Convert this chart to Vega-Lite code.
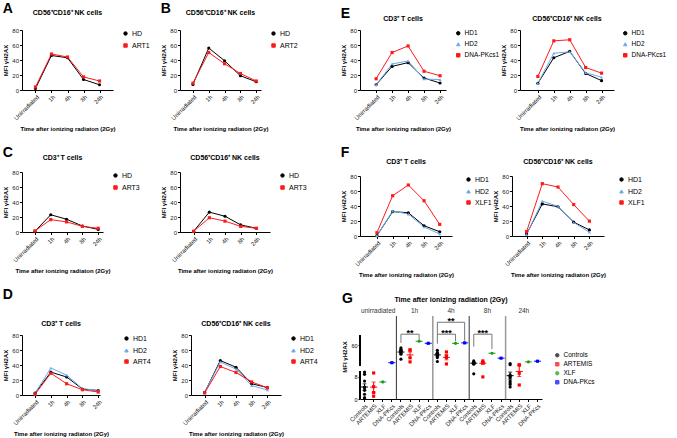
{
  "$schema": "https://vega.github.io/schema/vega-lite/v6.json",
  "padding": {"left": 2, "top": 2, "right": 0, "bottom": 0},
  "background": "white",
  "config": {
    "font": "Liberation Sans",
    "view": {"stroke": null},
    "axis": {"labelFontSize": 6, "titleFontSize": 6, "titleFontWeight": "bold", "domainColor": "#000", "tickColor": "#000", "labelColor": "#222", "titleColor": "#000", "grid": false, "tickSize": 2.5, "labelPadding": 1, "titlePadding": 3},
    "axisX": {"labelAngle": -45, "titlePadding": 5},
    "legend": {"labelFontSize": 7, "symbolSize": 12, "rowPadding": 3, "offset": 9, "labelColor": "#000", "symbolStrokeWidth": 1, "labelOffset": 3},
    "title": {"fontSize": 7, "fontWeight": "bold", "color": "#000", "offset": 8}
  },
  "datasets": {
    "lines": [
      {"p":"A","s":"HD","t":"Unirradiated","v":2},{"p":"A","s":"HD","t":"1h","v":46},{"p":"A","s":"HD","t":"4h","v":43},{"p":"A","s":"HD","t":"8h","v":14},{"p":"A","s":"HD","t":"24h","v":7},
      {"p":"A","s":"ART1","t":"Unirradiated","v":4},{"p":"A","s":"ART1","t":"1h","v":48},{"p":"A","s":"ART1","t":"4h","v":44},{"p":"A","s":"ART1","t":"8h","v":17.5},{"p":"A","s":"ART1","t":"24h","v":12},
      {"p":"B","s":"HD","t":"Unirradiated","v":7.5},{"p":"B","s":"HD","t":"1h","v":56},{"p":"B","s":"HD","t":"4h","v":39},{"p":"B","s":"HD","t":"8h","v":19},{"p":"B","s":"HD","t":"24h","v":11},
      {"p":"B","s":"ART2","t":"Unirradiated","v":9},{"p":"B","s":"ART2","t":"1h","v":50},{"p":"B","s":"ART2","t":"4h","v":35},{"p":"B","s":"ART2","t":"8h","v":22},{"p":"B","s":"ART2","t":"24h","v":12},
      {"p":"CT","s":"HD","t":"Unirradiated","v":1},{"p":"CT","s":"HD","t":"1h","v":23},{"p":"CT","s":"HD","t":"4h","v":17},{"p":"CT","s":"HD","t":"8h","v":8},{"p":"CT","s":"HD","t":"24h","v":3.5},
      {"p":"CT","s":"ART3","t":"Unirradiated","v":1.5},{"p":"CT","s":"ART3","t":"1h","v":16.5},{"p":"CT","s":"ART3","t":"4h","v":13.5},{"p":"CT","s":"ART3","t":"8h","v":7.5},{"p":"CT","s":"ART3","t":"24h","v":5},
      {"p":"CN","s":"HD","t":"Unirradiated","v":1},{"p":"CN","s":"HD","t":"1h","v":26.5},{"p":"CN","s":"HD","t":"4h","v":21},{"p":"CN","s":"HD","t":"8h","v":9.5},{"p":"CN","s":"HD","t":"24h","v":5},
      {"p":"CN","s":"ART3","t":"Unirradiated","v":1},{"p":"CN","s":"ART3","t":"1h","v":19},{"p":"CN","s":"ART3","t":"4h","v":14.5},{"p":"CN","s":"ART3","t":"8h","v":7.5},{"p":"CN","s":"ART3","t":"24h","v":5},
      {"p":"DT","s":"HD1","t":"Unirradiated","v":2.5},{"p":"DT","s":"HD1","t":"1h","v":30.5},{"p":"DT","s":"HD1","t":"4h","v":24},{"p":"DT","s":"HD1","t":"8h","v":8},{"p":"DT","s":"HD1","t":"24h","v":6},
      {"p":"DT","s":"HD2","t":"Unirradiated","v":2.5},{"p":"DT","s":"HD2","t":"1h","v":36},{"p":"DT","s":"HD2","t":"4h","v":26.5},{"p":"DT","s":"HD2","t":"8h","v":8.5},{"p":"DT","s":"HD2","t":"24h","v":6},
      {"p":"DT","s":"ART4","t":"Unirradiated","v":1},{"p":"DT","s":"ART4","t":"1h","v":29},{"p":"DT","s":"ART4","t":"4h","v":15},{"p":"DT","s":"ART4","t":"8h","v":7},{"p":"DT","s":"ART4","t":"24h","v":4},
      {"p":"DN","s":"HD1","t":"Unirradiated","v":3.5},{"p":"DN","s":"HD1","t":"1h","v":46},{"p":"DN","s":"HD1","t":"4h","v":37},{"p":"DN","s":"HD1","t":"8h","v":15},{"p":"DN","s":"HD1","t":"24h","v":10},
      {"p":"DN","s":"HD2","t":"Unirradiated","v":3.5},{"p":"DN","s":"HD2","t":"1h","v":44},{"p":"DN","s":"HD2","t":"4h","v":34.5},{"p":"DN","s":"HD2","t":"8h","v":12.5},{"p":"DN","s":"HD2","t":"24h","v":6.7},
      {"p":"DN","s":"ART4","t":"Unirradiated","v":2.7},{"p":"DN","s":"ART4","t":"1h","v":38},{"p":"DN","s":"ART4","t":"4h","v":30},{"p":"DN","s":"ART4","t":"8h","v":17.5},{"p":"DN","s":"ART4","t":"24h","v":9.5},
      {"p":"ET","s":"HD1","t":"Unirradiated","v":7},{"p":"ET","s":"HD1","t":"1h","v":31.5},{"p":"ET","s":"HD1","t":"4h","v":36.5},{"p":"ET","s":"HD1","t":"8h","v":16},{"p":"ET","s":"HD1","t":"24h","v":9.3},
      {"p":"ET","s":"HD2","t":"Unirradiated","v":7},{"p":"ET","s":"HD2","t":"1h","v":34.7},{"p":"ET","s":"HD2","t":"4h","v":38.7},{"p":"ET","s":"HD2","t":"8h","v":14.7},{"p":"ET","s":"HD2","t":"24h","v":13.8},
      {"p":"ET","s":"DNA-PKcs1","t":"Unirradiated","v":15},{"p":"ET","s":"DNA-PKcs1","t":"1h","v":50},{"p":"ET","s":"DNA-PKcs1","t":"4h","v":58.7},{"p":"ET","s":"DNA-PKcs1","t":"8h","v":25},{"p":"ET","s":"DNA-PKcs1","t":"24h","v":19},
      {"p":"EN","s":"HD1","t":"Unirradiated","v":9},{"p":"EN","s":"HD1","t":"1h","v":43},{"p":"EN","s":"HD1","t":"4h","v":51.5},{"p":"EN","s":"HD1","t":"8h","v":22},{"p":"EN","s":"HD1","t":"24h","v":12.5},
      {"p":"EN","s":"HD2","t":"Unirradiated","v":9},{"p":"EN","s":"HD2","t":"1h","v":49},{"p":"EN","s":"HD2","t":"4h","v":51},{"p":"EN","s":"HD2","t":"8h","v":23},{"p":"EN","s":"HD2","t":"24h","v":17},
      {"p":"EN","s":"DNA-PKcs1","t":"Unirradiated","v":18},{"p":"EN","s":"DNA-PKcs1","t":"1h","v":65.5},{"p":"EN","s":"DNA-PKcs1","t":"4h","v":67},{"p":"EN","s":"DNA-PKcs1","t":"8h","v":30},{"p":"EN","s":"DNA-PKcs1","t":"24h","v":22.5},
      {"p":"FT","s":"HD1","t":"Unirradiated","v":0.5},{"p":"FT","s":"HD1","t":"1h","v":32.5},{"p":"FT","s":"HD1","t":"4h","v":31},{"p":"FT","s":"HD1","t":"8h","v":13.7},{"p":"FT","s":"HD1","t":"24h","v":5.7},
      {"p":"FT","s":"HD2","t":"Unirradiated","v":0.5},{"p":"FT","s":"HD2","t":"1h","v":33.3},{"p":"FT","s":"HD2","t":"4h","v":29.3},{"p":"FT","s":"HD2","t":"8h","v":12},{"p":"FT","s":"HD2","t":"24h","v":2.7},
      {"p":"FT","s":"XLF1","t":"Unirradiated","v":4.4},{"p":"FT","s":"XLF1","t":"1h","v":53.7},{"p":"FT","s":"XLF1","t":"4h","v":68},{"p":"FT","s":"XLF1","t":"8h","v":47},{"p":"FT","s":"XLF1","t":"24h","v":15.5},
      {"p":"FN","s":"HD1","t":"Unirradiated","v":2.7},{"p":"FN","s":"HD1","t":"1h","v":42.8},{"p":"FN","s":"HD1","t":"4h","v":39},{"p":"FN","s":"HD1","t":"8h","v":18.5},{"p":"FN","s":"HD1","t":"24h","v":8.1},
      {"p":"FN","s":"HD2","t":"Unirradiated","v":2},{"p":"FN","s":"HD2","t":"1h","v":46.4},{"p":"FN","s":"HD2","t":"4h","v":39.6},{"p":"FN","s":"HD2","t":"8h","v":18},{"p":"FN","s":"HD2","t":"24h","v":5},
      {"p":"FN","s":"XLF1","t":"Unirradiated","v":5.9},{"p":"FN","s":"XLF1","t":"1h","v":69.8},{"p":"FN","s":"XLF1","t":"4h","v":65.3},{"p":"FN","s":"XLF1","t":"8h","v":41.9},{"p":"FN","s":"XLF1","t":"24h","v":19.8}
    ],
    "g": [
      {"c":"unirradiated|Controls","g":"Controls","v":9.6},{"c":"unirradiated|Controls","g":"Controls","v":8.8},{"c":"unirradiated|Controls","g":"Controls","v":6.4},{"c":"unirradiated|Controls","g":"Controls","v":4.3},{"c":"unirradiated|Controls","g":"Controls","v":4.0},{"c":"unirradiated|Controls","g":"Controls","v":3.1},{"c":"unirradiated|Controls","g":"Controls","v":1.7},{"c":"unirradiated|Controls","g":"Controls","v":0.5},{"c":"unirradiated|Controls","g":"Controls","v":0.2},
      {"c":"unirradiated|ARTEMIS","g":"ARTEMIS","v":9.3},{"c":"unirradiated|ARTEMIS","g":"ARTEMIS","v":4.4},{"c":"unirradiated|ARTEMIS","g":"ARTEMIS","v":2.3},{"c":"unirradiated|ARTEMIS","g":"ARTEMIS","v":1.0},
      {"c":"unirradiated|XLF","g":"XLF","v":6.1},
      {"c":"unirradiated|DNA-PKcs","g":"DNA-PKcs","v":18},
      {"c":"1h|Controls","g":"Controls","v":54},{"c":"1h|Controls","g":"Controls","v":50.5},{"c":"1h|Controls","g":"Controls","v":48},{"c":"1h|Controls","g":"Controls","v":46.4},{"c":"1h|Controls","g":"Controls","v":44.7},{"c":"1h|Controls","g":"Controls","v":42.3},{"c":"1h|Controls","g":"Controls","v":38.5},{"c":"1h|Controls","g":"Controls","v":26.5},
      {"c":"1h|ARTEMIS","g":"ARTEMIS","v":49},{"c":"1h|ARTEMIS","g":"ARTEMIS","v":48.5},{"c":"1h|ARTEMIS","g":"ARTEMIS","v":30},{"c":"1h|ARTEMIS","g":"ARTEMIS","v":20},
      {"c":"1h|XLF","g":"XLF","v":70},
      {"c":"1h|DNA-PKcs","g":"DNA-PKcs","v":65},
      {"c":"4h|Controls","g":"Controls","v":48},{"c":"4h|Controls","g":"Controls","v":42.3},{"c":"4h|Controls","g":"Controls","v":41},{"c":"4h|Controls","g":"Controls","v":40},{"c":"4h|Controls","g":"Controls","v":38.5},{"c":"4h|Controls","g":"Controls","v":36.8},{"c":"4h|Controls","g":"Controls","v":34.4},{"c":"4h|Controls","g":"Controls","v":30.3},{"c":"4h|Controls","g":"Controls","v":21},
      {"c":"4h|ARTEMIS","g":"ARTEMIS","v":44},{"c":"4h|ARTEMIS","g":"ARTEMIS","v":34.4},{"c":"4h|ARTEMIS","g":"ARTEMIS","v":30.3},{"c":"4h|ARTEMIS","g":"ARTEMIS","v":15},
      {"c":"4h|XLF","g":"XLF","v":65},
      {"c":"4h|DNA-PKcs","g":"DNA-PKcs","v":66},
      {"c":"8h|Controls","g":"Controls","v":22.4},{"c":"8h|Controls","g":"Controls","v":20},{"c":"8h|Controls","g":"Controls","v":18.4},{"c":"8h|Controls","g":"Controls","v":17.6},{"c":"8h|Controls","g":"Controls","v":16},{"c":"8h|Controls","g":"Controls","v":14.5},{"c":"8h|Controls","g":"Controls","v":9},
      {"c":"8h|ARTEMIS","g":"ARTEMIS","v":22.4},{"c":"8h|ARTEMIS","g":"ARTEMIS","v":18.4},{"c":"8h|ARTEMIS","g":"ARTEMIS","v":18.4},{"c":"8h|ARTEMIS","g":"ARTEMIS","v":7.9},
      {"c":"8h|XLF","g":"XLF","v":41},
      {"c":"8h|DNA-PKcs","g":"DNA-PKcs","v":29},
      {"c":"24h|Controls","g":"Controls","v":16},{"c":"24h|Controls","g":"Controls","v":13},{"c":"24h|Controls","g":"Controls","v":8.6},{"c":"24h|Controls","g":"Controls","v":8.1},{"c":"24h|Controls","g":"Controls","v":7.6},{"c":"24h|Controls","g":"Controls","v":6.4},{"c":"24h|Controls","g":"Controls","v":5.8},{"c":"24h|Controls","g":"Controls","v":5.2},{"c":"24h|Controls","g":"Controls","v":4.3},
      {"c":"24h|ARTEMIS","g":"ARTEMIS","v":12.6},{"c":"24h|ARTEMIS","g":"ARTEMIS","v":12.6},{"c":"24h|ARTEMIS","g":"ARTEMIS","v":9.2},{"c":"24h|ARTEMIS","g":"ARTEMIS","v":5.0},
      {"c":"24h|XLF","g":"XLF","v":20},
      {"c":"24h|DNA-PKcs","g":"DNA-PKcs","v":21.6}
    ]
  },
  "resolve": {"scale": {"color": "independent", "shape": "independent"}},
  "spacing": 22,
  "hconcat": [
    {
      "resolve": {"scale": {"color": "independent", "shape": "independent"}},
      "spacing": 14,
      "vconcat": [
        {
          "resolve": {"scale": {"color": "independent", "shape": "independent"}},
          "spacing": 14,
          "vconcat": [
            {
              "resolve": {"scale": {"color": "independent", "shape": "independent"}},
              "spacing": 10,
              "hconcat": [
                {
                  "title": {"text": "A", "fontSize": 14, "anchor": "start", "offset": -7},
                  "resolve": {"scale": {"color": "independent", "shape": "independent"}},
                  "hconcat": [
                    {
                      "width": 91, "height": 60,
                      "title": {"text": "CD56⁺CD16⁺ NK cells", "offset": 11},
                      "data": {"name": "lines"},
                      "transform": [{"filter": "datum.p === 'A'"}],
                      "mark": {"type": "line", "strokeWidth": 1, "point": {"filled": true, "size": 10}},
                      "encoding": {
                        "x": {"field": "t", "type": "ordinal", "sort": ["Unirradiated","1h","4h","8h","24h"], "scale": {"type": "point", "padding": 0.84, "align": 0.5}, "title": "Time after ionizing radiaton (2Gy)"},
                        "y": {"field": "v", "type": "quantitative", "scale": {"domain": [0, 80], "nice": false}, "axis": {"values": [0,20,40,60,80]}, "title": "MFI γH2AX"},
                        "color": {"field": "s", "type": "nominal", "scale": {"domain": ["HD","ART1"], "range": ["#000000","#ff1a1a"]}, "legend": {"title": null}},
                        "shape": {"field": "s", "type": "nominal", "scale": {"domain": ["HD","ART1"], "range": ["circle","square"]}, "legend": {"title": null}}
                      }
                    }
                  ]
                },
                {
                  "title": {"text": "B", "fontSize": 14, "anchor": "start", "offset": -7},
                  "resolve": {"scale": {"color": "independent", "shape": "independent"}},
                  "hconcat": [
                    {
                      "width": 81, "height": 60,
                      "title": {"text": "CD56⁺CD16⁺ NK cells", "offset": 11},
                      "data": {"name": "lines"},
                      "transform": [{"filter": "datum.p === 'B'"}],
                      "mark": {"type": "line", "strokeWidth": 1, "point": {"filled": true, "size": 10}},
                      "encoding": {
                        "x": {"field": "t", "type": "ordinal", "sort": ["Unirradiated","1h","4h","8h","24h"], "scale": {"type": "point", "padding": 0.56, "align": 0.73}, "title": "Time after ionizing radiaton (2Gy)"},
                        "y": {"field": "v", "type": "quantitative", "scale": {"domain": [0, 80], "nice": false}, "axis": {"values": [0,20,40,60,80]}, "title": "MFI γH2AX"},
                        "color": {"field": "s", "type": "nominal", "scale": {"domain": ["HD","ART2"], "range": ["#000000","#ff1a1a"]}, "legend": {"title": null}},
                        "shape": {"field": "s", "type": "nominal", "scale": {"domain": ["HD","ART2"], "range": ["circle","square"]}, "legend": {"title": null}}
                      }
                    }
                  ]
                }
              ]
            },
            {
              "title": {"text": "C", "fontSize": 14, "anchor": "start", "offset": -6},
              "resolve": {"scale": {"color": "independent", "shape": "independent"}},
              "spacing": 20,
              "hconcat": [
                {
                  "width": 81, "height": 60,
                  "title": {"text": "CD3⁺ T cells"},
                  "data": {"name": "lines"},
                  "transform": [{"filter": "datum.p === 'CT'"}],
                  "mark": {"type": "line", "strokeWidth": 1, "point": {"filled": true, "size": 10}},
                  "encoding": {
                    "x": {"field": "t", "type": "ordinal", "sort": ["Unirradiated","1h","4h","8h","24h"], "scale": {"type": "point", "padding": 0.56, "align": 0.73}, "title": "Time after ionizing radiaton (2Gy)"},
                    "y": {"field": "v", "type": "quantitative", "scale": {"domain": [0, 80], "nice": false}, "axis": {"values": [0,20,40,60,80]}, "title": "MFI γH2AX"},
                    "color": {"field": "s", "type": "nominal", "scale": {"domain": ["HD","ART3"], "range": ["#000000","#ff1a1a"]}, "legend": {"title": null}},
                    "shape": {"field": "s", "type": "nominal", "scale": {"domain": ["HD","ART3"], "range": ["circle","square"]}, "legend": {"title": null}}
                  }
                },
                {
                  "width": 90, "height": 60,
                  "title": {"text": "CD56⁺CD16⁺ NK cells"},
                  "data": {"name": "lines"},
                  "transform": [{"filter": "datum.p === 'CN'"}],
                  "mark": {"type": "line", "strokeWidth": 1, "point": {"filled": true, "size": 10}},
                  "encoding": {
                    "x": {"field": "t", "type": "ordinal", "sort": ["Unirradiated","1h","4h","8h","24h"], "scale": {"type": "point", "padding": 0.87, "align": 0.5}, "title": "Time after ionizing radiaton (2Gy)"},
                    "y": {"field": "v", "type": "quantitative", "scale": {"domain": [0, 80], "nice": false}, "axis": {"values": [0,20,40,60,80]}, "title": "MFI γH2AX"},
                    "color": {"field": "s", "type": "nominal", "scale": {"domain": ["HD","ART3"], "range": ["#000000","#ff1a1a"]}, "legend": {"title": null}},
                    "shape": {"field": "s", "type": "nominal", "scale": {"domain": ["HD","ART3"], "range": ["circle","square"]}, "legend": {"title": null}}
                  }
                }
              ]
            }
          ]
        },
        {
          "title": {"text": "D", "fontSize": 14, "anchor": "start", "offset": 18},
          "resolve": {"scale": {"color": "independent", "shape": "independent"}},
          "spacing": 20,
          "hconcat": [
            {
              "width": 78, "height": 60,
              "title": {"text": "CD3⁺ T cells", "offset": 5},
              "data": {"name": "lines"},
              "transform": [{"filter": "datum.p === 'DT'"}],
              "mark": {"type": "line", "strokeWidth": 1, "point": {"filled": true, "size": 10}},
              "encoding": {
                "x": {"field": "t", "type": "ordinal", "sort": ["Unirradiated","1h","4h","8h","24h"], "scale": {"type": "point", "padding": 0.47, "align": 0.88}, "title": "Time after ionizing radiaton (2Gy)"},
                "y": {"field": "v", "type": "quantitative", "scale": {"domain": [0, 80], "nice": false}, "axis": {"values": [0,20,40,60,80]}, "title": "MFI γH2AX"},
                "color": {"field": "s", "type": "nominal", "scale": {"domain": ["HD1","HD2","ART4"], "range": ["#000000","#6aaaf0","#ff1a1a"]}, "legend": {"title": null, "offset": 22}},
                "shape": {"field": "s", "type": "nominal", "scale": {"domain": ["HD1","HD2","ART4"], "range": ["circle","triangle-up","square"]}, "legend": {"title": null, "offset": 22}}
              }
            },
            {
              "width": 90, "height": 60,
              "title": {"text": "CD56⁺CD16⁺ NK cells", "offset": 5},
              "data": {"name": "lines"},
              "transform": [{"filter": "datum.p === 'DN'"}],
              "mark": {"type": "line", "strokeWidth": 1, "point": {"filled": true, "size": 10}},
              "encoding": {
                "x": {"field": "t", "type": "ordinal", "sort": ["Unirradiated","1h","4h","8h","24h"], "scale": {"type": "point", "padding": 0.87, "align": 0.5}, "title": "Time after ionizing radiaton (2Gy)"},
                "y": {"field": "v", "type": "quantitative", "scale": {"domain": [0, 80], "nice": false}, "axis": {"values": [0,20,40,60,80]}, "title": "MFI γH2AX"},
                "color": {"field": "s", "type": "nominal", "scale": {"domain": ["HD1","HD2","ART4"], "range": ["#000000","#6aaaf0","#ff1a1a"]}, "legend": {"title": null}},
                "shape": {"field": "s", "type": "nominal", "scale": {"domain": ["HD1","HD2","ART4"], "range": ["circle","triangle-up","square"]}, "legend": {"title": null}}
              }
            }
          ]
        }
      ]
    },
    {
      "resolve": {"scale": {"color": "independent", "shape": "independent"}},
      "spacing": 14,
      "vconcat": [
        {
          "title": {"text": "E", "fontSize": 14, "anchor": "start", "offset": -6},
          "resolve": {"scale": {"color": "independent", "shape": "independent"}},
          "spacing": 0,
          "hconcat": [
            {
              "width": 86, "height": 60,
              "title": {"text": "CD3⁺ T cells", "offset": 5},
              "data": {"name": "lines"},
              "transform": [{"filter": "datum.p === 'ET'"}],
              "mark": {"type": "line", "strokeWidth": 1, "point": {"filled": true, "size": 10}},
              "encoding": {
                "x": {"field": "t", "type": "ordinal", "sort": ["Unirradiated","1h","4h","8h","24h"], "scale": {"type": "point", "padding": 0.69, "align": 0.73}, "title": "Time after ionizing radiaton (2Gy)"},
                "y": {"field": "v", "type": "quantitative", "scale": {"domain": [0, 80], "nice": false}, "axis": {"values": [0,20,40,60,80]}, "title": "MFI γH2AX"},
                "color": {"field": "s", "type": "nominal", "scale": {"domain": ["HD1","HD2","DNA-PKcs1"], "range": ["#000000","#6aaaf0","#ff1a1a"]}, "legend": {"title": null, "offset": 9, "labelFontSize": 6.5}},
                "shape": {"field": "s", "type": "nominal", "scale": {"domain": ["HD1","HD2","DNA-PKcs1"], "range": ["circle","triangle-up","square"]}, "legend": {"title": null, "offset": 9, "labelFontSize": 6.5}}
              }
            },
            {
              "width": 94, "height": 60,
              "title": {"text": "CD56⁺CD16⁺ NK cells", "offset": 5},
              "data": {"name": "lines"},
              "transform": [{"filter": "datum.p === 'EN'"}],
              "mark": {"type": "line", "strokeWidth": 1, "point": {"filled": true, "size": 10}},
              "encoding": {
                "x": {"field": "t", "type": "ordinal", "sort": ["Unirradiated","1h","4h","8h","24h"], "scale": {"type": "point", "padding": 0.95, "align": 0.59}, "title": "Time after ionizing radiaton (2Gy)"},
                "y": {"field": "v", "type": "quantitative", "scale": {"domain": [0, 80], "nice": false}, "axis": {"values": [0,20,40,60,80]}, "title": "MFI γH2AX"},
                "color": {"field": "s", "type": "nominal", "scale": {"domain": ["HD1","HD2","DNA-PKcs1"], "range": ["#000000","#6aaaf0","#ff1a1a"]}, "legend": {"title": null, "offset": 8, "labelFontSize": 6.5}},
                "shape": {"field": "s", "type": "nominal", "scale": {"domain": ["HD1","HD2","DNA-PKcs1"], "range": ["circle","triangle-up","square"]}, "legend": {"title": null, "offset": 8, "labelFontSize": 6.5}}
              }
            }
          ]
        },
        {
          "title": {"text": "F", "fontSize": 14, "anchor": "start", "offset": -2},
          "resolve": {"scale": {"color": "independent", "shape": "independent"}},
          "spacing": 0,
          "hconcat": [
            {
              "width": 92, "height": 60,
              "title": {"text": "CD3⁺ T cells", "offset": 8},
              "data": {"name": "lines"},
              "transform": [{"filter": "datum.p === 'FT'"}],
              "mark": {"type": "line", "strokeWidth": 1, "point": {"filled": true, "size": 10}},
              "encoding": {
                "x": {"field": "t", "type": "ordinal", "sort": ["Unirradiated","1h","4h","8h","24h"], "scale": {"type": "point", "padding": 0.93, "align": 0.58}, "title": "Time after ionizing radiaton (2Gy)"},
                "y": {"field": "v", "type": "quantitative", "scale": {"domain": [0, 80], "nice": false}, "axis": {"values": [0,20,40,60,80]}, "title": "MFI γH2AX"},
                "color": {"field": "s", "type": "nominal", "scale": {"domain": ["HD1","HD2","XLF1"], "range": ["#000000","#6aaaf0","#ff1a1a"]}, "legend": {"title": null, "offset": 13}},
                "shape": {"field": "s", "type": "nominal", "scale": {"domain": ["HD1","HD2","XLF1"], "range": ["circle","triangle-up","square"]}, "legend": {"title": null, "offset": 13}}
              }
            },
            {
              "width": 92, "height": 60,
              "title": {"text": "CD56⁺CD16⁺ NK cells", "offset": 8},
              "data": {"name": "lines"},
              "transform": [{"filter": "datum.p === 'FN'"}],
              "mark": {"type": "line", "strokeWidth": 1, "point": {"filled": true, "size": 10}},
              "encoding": {
                "x": {"field": "t", "type": "ordinal", "sort": ["Unirradiated","1h","4h","8h","24h"], "scale": {"type": "point", "padding": 0.93, "align": 0.5}, "title": "Time after ionizing radiaton (2Gy)"},
                "y": {"field": "v", "type": "quantitative", "scale": {"domain": [0, 80], "nice": false}, "axis": {"values": [0,20,40,60,80]}, "title": "MFI γH2AX"},
                "color": {"field": "s", "type": "nominal", "scale": {"domain": ["HD1","HD2","XLF1"], "range": ["#000000","#6aaaf0","#ff1a1a"]}, "legend": {"title": null, "offset": 14}},
                "shape": {"field": "s", "type": "nominal", "scale": {"domain": ["HD1","HD2","XLF1"], "range": ["circle","triangle-up","square"]}, "legend": {"title": null, "offset": 14}}
              }
            }
          ]
        },
        {
          "title": {"text": "G", "fontSize": 14, "anchor": "start", "offset": -10},
          "resolve": {"scale": {"color": "independent", "shape": "independent"}},
          "hconcat": [
            {
              "width": 182, "height": 85,
              "title": {"text": "Time after ionizing radiation (2Gy)", "offset": 5},
              "data": {"name": "g"},
              "layer": [
                {
                  "data": {"values": [{"c": "1h|Controls"}, {"c": "8h|Controls"}]},
                  "mark": {"type": "rule", "color": "#333333", "strokeWidth": 1},
                  "encoding": {
                    "x": {"field": "c", "type": "nominal", "bandPosition": 0, "scale": {"domain": ["unirradiated|Controls","unirradiated|ARTEMIS","unirradiated|XLF","unirradiated|DNA-PKcs","1h|Controls","1h|ARTEMIS","1h|XLF","1h|DNA-PKcs","4h|Controls","4h|ARTEMIS","4h|XLF","4h|DNA-PKcs","8h|Controls","8h|ARTEMIS","8h|XLF","8h|DNA-PKcs","24h|Controls","24h|ARTEMIS","24h|XLF","24h|DNA-PKcs"], "paddingInner": 0, "paddingOuter": 0}, "axis": {"labelExpr": "split(datum.label, '|')[1]", "title": null}},
                    "y": {"datum": 0, "scale": {"domain": [0, 10, 10.001, 136], "range": [85, 57, 52, 0], "nice": false, "zero": false}, "axis": {"values": [0,2,4,6,8,10,20,40,60,80], "domain": false, "labelOverlap": false, "labelFontSize": 5.5, "labelColor": "#000000", "tickSize": 2, "labelBound": false, "labelFlush": false, "title": "MFI γH2AX"}},
                    "y2": {"datum": 131}
                  }
                },
                {
                  "data": {"values": [{"c": "4h|Controls"}, {"c": "24h|Controls"}]},
                  "mark": {"type": "rule", "color": "#999999", "strokeWidth": 1.5},
                  "encoding": {"x": {"field": "c", "type": "nominal", "bandPosition": 0}, "y": {"datum": 0}, "y2": {"datum": 131}}
                },
                {
                  "mark": {"type": "rule", "color": "#000000", "strokeWidth": 1},
                  "encoding": {"x": {"datum": "unirradiated|Controls", "type": "nominal", "bandPosition": 0}, "y": {"datum": 0}, "y2": {"datum": 10}}
                },
                {
                  "mark": {"type": "rule", "color": "#000000", "strokeWidth": 1},
                  "encoding": {"x": {"datum": "unirradiated|Controls", "type": "nominal", "bandPosition": 0}, "y": {"datum": 10.001}, "y2": {"datum": 85}}
                },
                {
                  "transform": [{"filter": "datum.g === 'Controls' || datum.g === 'ARTEMIS'"}],
                  "mark": {"type": "errorbar", "extent": "stderr", "ticks": {"size": 4}, "thickness": 1},
                  "encoding": {
                    "x": {"field": "c", "type": "nominal"},
                    "y": {"field": "v", "type": "quantitative", "title": "MFI γH2AX"},
                    "color": {"field": "g", "type": "nominal", "title": null}
                  }
                },
                {
                  "mark": {"type": "tick", "thickness": 1, "size": 7},
                  "encoding": {
                    "x": {"field": "c", "type": "nominal"},
                    "y": {"aggregate": "mean", "field": "v", "type": "quantitative", "title": "MFI γH2AX"},
                    "color": {"field": "g", "type": "nominal", "title": null}
                  }
                },
                {
                  "mark": {"type": "point", "filled": true, "size": 10, "opacity": 1},
                  "encoding": {
                    "x": {"field": "c", "type": "nominal", "axis": {"labelExpr": "split(datum.label, '|')[1]", "title": null}},
                    "y": {"field": "v", "type": "quantitative", "axis": {"values": [0,2,4,6,8,10,20,40,60,80], "domain": false, "labelOverlap": false, "labelFontSize": 5.5, "labelColor": "#000000", "tickSize": 2, "labelBound": false, "labelFlush": false, "title": "MFI γH2AX"}},
                    "color": {"field": "g", "type": "nominal", "title": null, "scale": {"domain": ["Controls","ARTEMIS","XLF","DNA-PKcs"], "range": ["#000000","#ff0000","#1a9a1a","#0000ff"]}, "legend": {"title": null, "orient": "none", "legendX": 194, "legendY": 38, "labelFontSize": 6.5, "rowPadding": 1}},
                    "shape": {"field": "g", "type": "nominal", "title": null, "scale": {"domain": ["Controls","ARTEMIS","XLF","DNA-PKcs"], "range": ["circle","square","circle","square"]}, "legend": {"title": null, "orient": "none", "legendX": 194, "legendY": 38, "labelFontSize": 6.5, "rowPadding": 1}}
                  }
                },
                {
                  "data": {"values": [{"a": "1h|Controls", "b": "1h|XLF", "y": 87}, {"a": "4h|Controls", "b": "4h|XLF", "y": 87}, {"a": "4h|Controls", "b": "4h|DNA-PKcs", "y": 116}, {"a": "8h|Controls", "b": "8h|XLF", "y": 87}]},
                  "mark": {"type": "rule", "color": "#777777", "strokeWidth": 1},
                  "encoding": {"x": {"field": "a", "type": "nominal"}, "x2": {"field": "b"}, "y": {"field": "y", "type": "quantitative", "title": "MFI γH2AX"}}
                },
                {
                  "data": {"values": [{"c": "1h|Controls", "y": 87, "y2": 66}, {"c": "1h|XLF", "y": 87, "y2": 73}, {"c": "4h|Controls", "y": 116, "y2": 64}, {"c": "4h|XLF", "y": 87, "y2": 70}, {"c": "4h|DNA-PKcs", "y": 116, "y2": 71}, {"c": "8h|Controls", "y": 87, "y2": 57}, {"c": "8h|XLF", "y": 87, "y2": 51}]},
                  "mark": {"type": "rule", "color": "#777777", "strokeWidth": 1},
                  "encoding": {"x": {"field": "c", "type": "nominal"}, "y": {"field": "y", "type": "quantitative", "title": "MFI γH2AX"}, "y2": {"field": "y2"}}
                },
                {
                  "data": {"values": [{"c": "1h|ARTEMIS", "y": 87, "s": "**"}, {"c": "4h|ARTEMIS", "y": 87, "s": "***"}, {"c": "8h|ARTEMIS", "y": 87, "s": "***"}]},
                  "mark": {"type": "text", "fontSize": 9, "fontWeight": "bold", "baseline": "alphabetic", "dy": 2},
                  "encoding": {"x": {"field": "c", "type": "nominal"}, "y": {"field": "y", "type": "quantitative", "title": "MFI γH2AX"}, "text": {"field": "s"}}
                },
                {
                  "data": {"values": [{"c": "4h|ARTEMIS", "y": 116, "s": "**"}]},
                  "mark": {"type": "text", "fontSize": 9, "fontWeight": "bold", "baseline": "alphabetic", "dy": 2},
                  "encoding": {"x": {"field": "c", "type": "nominal", "bandPosition": 1}, "y": {"field": "y", "type": "quantitative", "title": "MFI γH2AX"}, "text": {"field": "s"}}
                },
                {
                  "data": {"values": [{"c": "unirradiated|ARTEMIS", "s": "unirradiated"}, {"c": "1h|ARTEMIS", "s": "1h"}, {"c": "4h|ARTEMIS", "s": "4h"}, {"c": "8h|ARTEMIS", "s": "8h"}, {"c": "24h|ARTEMIS", "s": "24h"}]},
                  "mark": {"type": "text", "fontSize": 6.5, "color": "#333333"},
                  "encoding": {"x": {"field": "c", "type": "nominal", "bandPosition": 1}, "y": {"datum": 143}, "text": {"field": "s"}}
                }
              ]
            }
          ]
        }
      ]
    }
  ]
}
